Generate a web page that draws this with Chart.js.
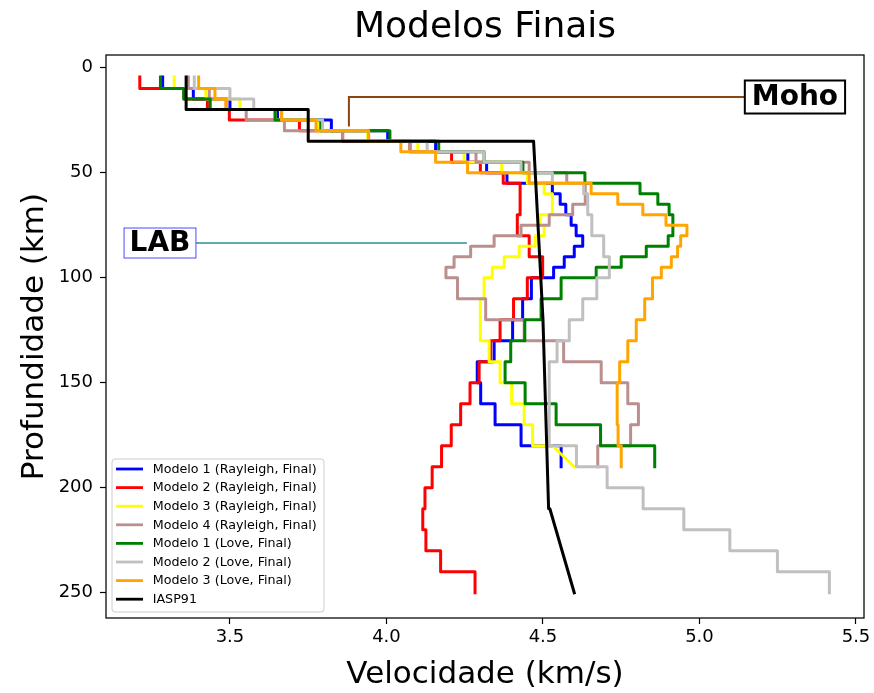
<!DOCTYPE html>
<html>
<head>
<meta charset="utf-8">
<title>Modelos Finais</title>
<script src="https://cdn.jsdelivr.net/npm/chart.js@4.4.0/dist/chart.umd.min.js"></script>
<style>
  html, body { margin: 0; padding: 0; background: #fff; }
  #wrap { width: 874px; height: 693px; }
</style>
</head>
<body>
<div id="wrap"><canvas id="chart" width="874" height="693"></canvas></div>
<script>
// layer boundaries (km): 5 km layers down to 100, then 10 km layers
const depthBounds = [4.5, 10, 15, 20, 25, 30, 35, 40, 45, 50, 55, 60, 65, 70, 75, 80, 85, 90, 95,
  100, 110, 120, 130, 140, 150, 160, 170, 180, 190, 200, 210, 220, 230, 240, 250];

// S velocity of each layer (km/s)
const rayleigh1 = [3.285, 3.383, 3.50, 3.652, 3.824, 4.004, 4.157, 4.26, 4.32, 4.385, 4.53, 4.555, 4.573, 4.59, 4.606, 4.627, 4.60, 4.568, 4.534,
  4.463, 4.435, 4.403, 4.344, 4.29, 4.301, 4.347, 4.43, 4.558];
const rayleigh2 = [3.212, 3.354, 3.428, 3.498, 3.722, 3.86, 4.075, 4.208, 4.30, 4.373, 4.427, 4.427, 4.427, 4.418, 4.418, 4.456, 4.456, 4.499, 4.499,
  4.45, 4.406, 4.363, 4.333, 4.296, 4.267, 4.237, 4.207, 4.176, 4.146, 4.123, 4.116, 4.126, 4.173, 4.283];
const rayleigh3 = [3.322, 3.423, 3.532, 3.644, 3.78, 3.94, 4.10, 4.248, 4.368, 4.45, 4.504, 4.53, 4.53, 4.49, 4.504, 4.475, 4.424, 4.376, 4.338,
  4.312, 4.30, 4.30, 4.328, 4.363, 4.40, 4.44, 4.467];
const rayleigh3Tail = [4.53, 4.60]; // last segment is drawn slanted (180 -> 190 km)
const rayleigh4 = [3.367, 3.434, 3.488, 3.552, 3.674, 3.86, 4.075, 4.286, 4.456, 4.576, 4.635, 4.635, 4.595, 4.52, 4.43, 4.344, 4.269, 4.216, 4.19,
  4.227, 4.317, 4.44, 4.566, 4.686, 4.771, 4.805, 4.78, 4.675];
const love1 = [3.278, 3.352, 3.437, 3.644, 3.79, 4.011, 4.167, 4.312, 4.436, 4.634, 4.81, 4.867, 4.903, 4.915, 4.915, 4.90, 4.83, 4.75, 4.67,
  4.558, 4.494, 4.442, 4.397, 4.379, 4.443, 4.542, 4.684, 4.857];
const love2 = [3.386, 3.50, 3.576, 3.665, 3.796, 3.943, 4.13, 4.312, 4.43, 4.53, 4.63, 4.643, 4.643, 4.656, 4.656, 4.694, 4.694, 4.712, 4.712,
  4.672, 4.627, 4.584, 4.545, 4.52, 4.52, 4.52, 4.52, 4.607, 4.705, 4.82, 4.95, 5.097, 5.249, 5.415];
const love3 = [3.40, 3.452, 3.487, 3.665, 3.775, 3.943, 4.046, 4.157, 4.259, 4.456, 4.654, 4.739, 4.819, 4.893, 4.96, 4.94, 4.93, 4.91, 4.878,
  4.85, 4.825, 4.798, 4.771, 4.745, 4.737, 4.737, 4.74, 4.75];

// IASP91 reference model
const iaspDepth = [4.5, 20, 20, 35, 35, 120, 210, 210, 250];
const iaspVel = [3.36, 3.36, 3.75, 3.75, 4.47, 4.50, 4.518, 4.522, 4.60];

const xTicks = [3.5, 4.0, 4.5, 5.0, 5.5];
const yTicks = [0, 50, 100, 150, 200, 250];

// annotations: [velocity, depth]
const mohoPoint = [3.88, 28];
const mohoText = [5.305, 14];
const labPoint = [4.257, 83.5];
const labText = [3.2765, 83.5];

const FONT = '"DejaVu Sans", sans-serif';
Chart.defaults.font.family = FONT;
Chart.defaults.color = '#000';

function steps(vel) {
  const pts = [];
  vel.forEach((v, i) => {
    pts.push({ x: v, y: depthBounds[i] });
    pts.push({ x: v, y: depthBounds[i + 1] });
  });
  return pts;
}

const yellowPts = steps(rayleigh3);
yellowPts.push({ x: rayleigh3Tail[0], y: depthBounds[rayleigh3.length] });
yellowPts.push({ x: rayleigh3Tail[1], y: depthBounds[rayleigh3.length + 1] });

const series = [
  { label: 'Modelo 1 (Rayleigh, Final)', color: '#0000ff', data: steps(rayleigh1) },
  { label: 'Modelo 2 (Rayleigh, Final)', color: '#ff0000', data: steps(rayleigh2) },
  { label: 'Modelo 3 (Rayleigh, Final)', color: '#ffff00', data: yellowPts },
  { label: 'Modelo 4 (Rayleigh, Final)', color: '#bc8f8f', data: steps(rayleigh4) },
  { label: 'Modelo 1 (Love, Final)', color: '#008000', data: steps(love1) },
  { label: 'Modelo 2 (Love, Final)', color: '#c0c0c0', data: steps(love2) },
  { label: 'Modelo 3 (Love, Final)', color: '#ffa500', data: steps(love3) },
  { label: 'IASP91', color: '#000000', data: iaspVel.map((v, i) => ({ x: v, y: iaspDepth[i] })) }
];

function roundRect(ctx, x, y, w, h, r) {
  ctx.beginPath();
  ctx.moveTo(x + r, y);
  ctx.lineTo(x + w - r, y);
  ctx.arcTo(x + w, y, x + w, y + r, r);
  ctx.lineTo(x + w, y + h - r);
  ctx.arcTo(x + w, y + h, x + w - r, y + h, r);
  ctx.lineTo(x + r, y + h);
  ctx.arcTo(x, y + h, x, y + h - r, r);
  ctx.lineTo(x, y + r);
  ctx.arcTo(x, y, x + r, y, r);
  ctx.closePath();
}

// title, frame, annotations and legend drawn over the lines
const overlay = {
  id: 'overlay',
  afterDatasetsDraw(chart) {
    const { ctx, chartArea: a } = chart;
    const xs = chart.scales.x, ys = chart.scales.y;
    ctx.save();

    // title centred over the axes
    ctx.font = '36px ' + FONT;
    ctx.fillStyle = '#000';
    ctx.textAlign = 'center';
    ctx.textBaseline = 'middle';
    ctx.fillText('Modelos Finais', (a.left + a.right) / 2, 27.5);

    // axes box
    ctx.strokeStyle = '#000';
    ctx.lineWidth = 1.25;
    ctx.strokeRect(a.left, a.top, a.right - a.left, a.bottom - a.top);

    // Moho
    ctx.font = 'bold 28px ' + FONT;
    let tx = xs.getPixelForValue(mohoText[0]);
    let ty = ys.getPixelForValue(mohoText[1]);
    let w = ctx.measureText('Moho').width + 14;
    const px = xs.getPixelForValue(mohoPoint[0]);
    const py = ys.getPixelForValue(mohoPoint[1]);
    ctx.strokeStyle = '#8b4513';
    ctx.lineWidth = 2;
    ctx.beginPath();
    ctx.moveTo(px, py);
    ctx.lineTo(px, ty);
    ctx.lineTo(tx - w / 2, ty);
    ctx.stroke();
    ctx.fillStyle = '#fff';
    ctx.fillRect(tx - w / 2, ty - 16.5, w, 33);
    ctx.strokeStyle = '#000';
    ctx.lineWidth = 2;
    ctx.strokeRect(tx - w / 2, ty - 16.5, w, 33);
    ctx.fillStyle = '#000';
    ctx.fillText('Moho', tx, ty + 1);

    // LAB
    tx = xs.getPixelForValue(labText[0]);
    ty = ys.getPixelForValue(labText[1]);
    w = ctx.measureText('LAB').width + 11;
    ctx.strokeStyle = '#2f8f8f';
    ctx.lineWidth = 1.5;
    ctx.beginPath();
    ctx.moveTo(xs.getPixelForValue(labPoint[0]), ys.getPixelForValue(labPoint[1]));
    ctx.lineTo(tx + w / 2, ty);
    ctx.stroke();
    ctx.fillStyle = '#fff';
    ctx.fillRect(tx - w / 2, ty - 15, w, 30);
    ctx.strokeStyle = '#4b4bff';
    ctx.lineWidth = 1;
    ctx.strokeRect(tx - w / 2, ty - 15, w, 30);
    ctx.fillStyle = '#000';
    ctx.fillText('LAB', tx, ty + 1);

    // legend, lower left
    ctx.font = '12.7px ' + FONT;
    ctx.textAlign = 'left';
    let maxW = 0;
    series.forEach(s => { maxW = Math.max(maxW, ctx.measureText(s.label).width); });
    const rowH = 18.6;
    const bw = maxW + 48, bh = 153;
    const bx = a.left + 6, by = a.bottom - 6 - bh;
    roundRect(ctx, bx, by, bw, bh, 3);
    ctx.fillStyle = 'rgba(255,255,255,0.85)';
    ctx.fill();
    ctx.strokeStyle = '#cccccc';
    ctx.lineWidth = 1;
    ctx.stroke();
    series.forEach((s, i) => {
      const cy = by + 10 + i * rowH;
      ctx.strokeStyle = s.color;
      ctx.lineWidth = 2.8;
      ctx.beginPath();
      ctx.moveTo(bx + 4, cy);
      ctx.lineTo(bx + 31, cy);
      ctx.stroke();
      ctx.fillStyle = '#000';
      ctx.fillText(s.label, bx + 40.7, cy + 0.5);
    });
    ctx.restore();
  }
};

new Chart(document.getElementById('chart'), {
  type: 'scatter',
  data: {
    datasets: series.map((s, i) => ({
      label: s.label,
      data: s.data,
      showLine: true,
      borderColor: s.color,
      backgroundColor: s.color,
      borderWidth: 3,
      borderJoinStyle: 'round',
      borderCapStyle: 'square',
      pointRadius: 0,
      pointHoverRadius: 0,
      tension: 0,
      fill: false,
      order: series.length - i
    }))
  },
  options: {
    responsive: false,
    animation: false,
    devicePixelRatio: 1,
    layout: { padding: { left: 0, right: 10, top: 55, bottom: 0 } },
    plugins: {
      legend: { display: false },
      tooltip: { enabled: false },
      title: { display: false }
    },
    scales: {
      x: {
        type: 'linear',
        position: 'bottom',
        min: 3.104,
        max: 5.5256,
        afterBuildTicks: s => { s.ticks = xTicks.map(v => ({ value: v })); },
        afterFit: s => { s.height = 75; },
        ticks: { callback: v => v.toFixed(1), color: '#000', font: { size: 18 }, padding: 3, maxRotation: 0, autoSkip: false },
        grid: { drawOnChartArea: false, tickLength: 6, tickColor: '#000', tickWidth: 1.2 },
        border: { display: false },
        title: { display: true, text: 'Velocidade (km/s)', color: '#000', font: { size: 31, lineHeight: 1 }, padding: { top: 0, bottom: 3 } }
      },
      y: {
        type: 'linear',
        position: 'left',
        reverse: true,
        min: -6,
        max: 262,
        afterBuildTicks: s => { s.ticks = yTicks.map(v => ({ value: v })); },
        afterFit: s => { s.width = 106; },
        ticks: { callback: v => String(v), color: '#000', font: { size: 18 }, padding: 7, autoSkip: false },
        grid: { drawOnChartArea: false, tickLength: 6, tickColor: '#000', tickWidth: 1.2 },
        border: { display: false },
        title: { display: true, text: 'Profundidade (km)', color: '#000', font: { size: 31, lineHeight: 1 }, padding: { top: 19.5, bottom: 0 } }
      }
    }
  },
  plugins: [overlay]
});
</script>
</body>
</html>
